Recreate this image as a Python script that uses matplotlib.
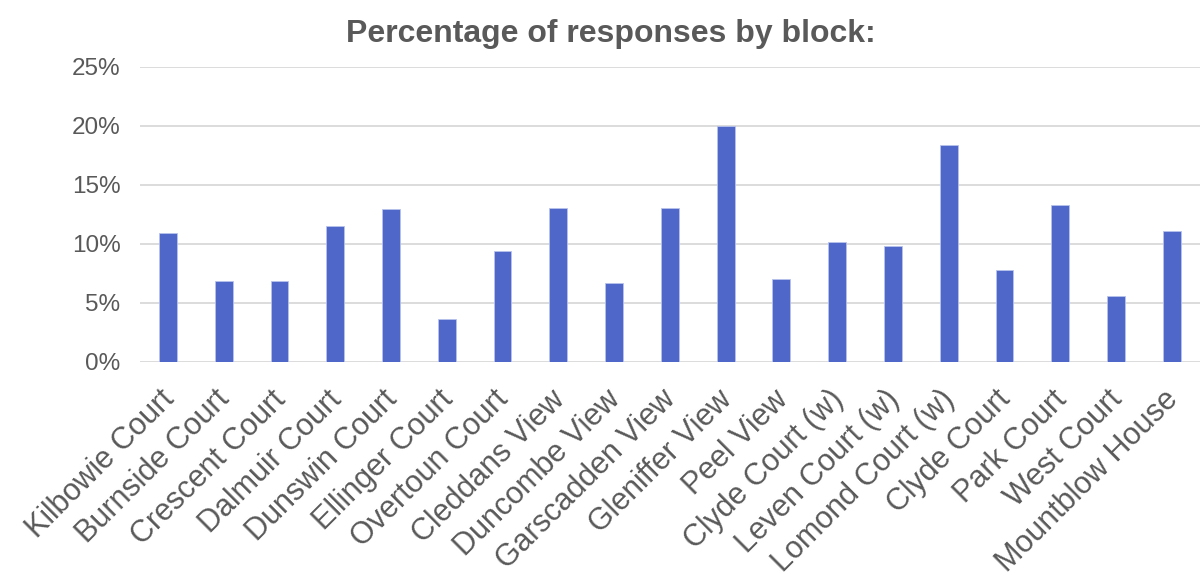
import matplotlib
matplotlib.use("Agg")
import matplotlib.pyplot as plt
import matplotlib.transforms as mtransforms
from matplotlib.ticker import PercentFormatter, MultipleLocator

categories = ["Kilbowie Court", "Burnside Court", "Crescent Court", "Dalmuir Court",
              "Dunswin Court", "Ellinger Court", "Overtoun Court", "Cleddans View",
              "Duncombe View", "Garscadden View", "Gleniffer View", "Peel View",
              "Clyde Court (w)", "Leven Court (w)", "Lomond Court (w)", "Clyde Court",
              "Park Court", "West Court", "Mountblow House"]
values = [10.9, 6.85, 6.9, 11.5, 12.95, 3.65, 9.4, 13.05, 6.65, 13.05, 20.0, 7.0,
          10.2, 9.8, 18.35, 7.75, 13.3, 5.57, 11.1]
title = "Percentage of responses by block:"

plt.rcParams['font.family'] = ['Liberation Sans', 'DejaVu Sans']
text_color = "#595959"

fig = plt.figure(figsize=(12, 5.81), dpi=100)
ax = fig.add_axes([0.1167, 0.377, 0.883, 0.508])

x = range(len(categories))
ax.bar(x, values, width=0.32, color="#4F67C8", edgecolor="#B8C3EC", linewidth=0.6, zorder=3)

ax.set_ylim(0, 25)
ax.set_xlim(-0.5, len(categories) - 0.5)
ax.yaxis.set_major_locator(MultipleLocator(5))
ax.yaxis.set_major_formatter(PercentFormatter(decimals=0))
ax.grid(axis='y', color="#D9D9D9", linewidth=1.3, zorder=0)
for s in ax.spines.values():
    s.set_visible(False)
ax.tick_params(axis='both', length=0, colors=text_color)
ax.tick_params(axis='y', labelsize=17.5, pad=14)
ax.set_xticks(list(x))
ax.set_xticklabels(categories, rotation=45, ha='right', rotation_mode='anchor',
                   fontsize=22, color=text_color)
ax.tick_params(axis='x', pad=14)
offset = mtransforms.ScaledTranslation(-9 / 100, -3 / 100, fig.dpi_scale_trans)
for lab in ax.get_xticklabels():
    lab.set_transform(lab.get_transform() + offset)
fig.text(611 / 1200, 1 - 42 / 581, title, fontsize=23, fontweight='bold',
         color=text_color, ha='center', va='baseline')

fig.savefig("out.png", dpi=100)
